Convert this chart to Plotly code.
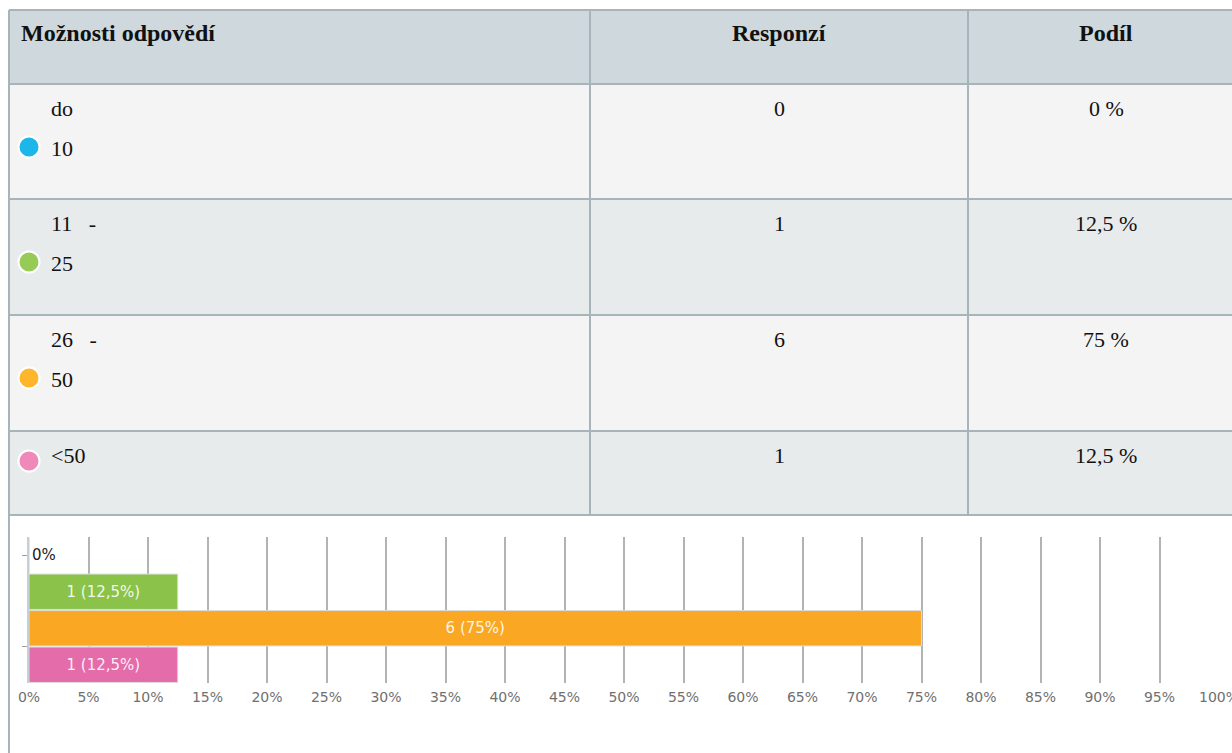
import plotly.graph_objects as go

# ---------------- data ----------------
headers = ["Možnosti odpovědí", "Responzí", "Podíl"]
option_lines = [["do", "10"], ["11\u00a0\u00a0\u00a0-", "25"], ["26\u00a0\u00a0\u00a0-", "50"], ["&lt;50"]]
categories = ["do 10", "11 - 25", "26 - 50", "<50"]
responses = [0, 1, 6, 1]
share_labels = ["0 %", "12,5 %", "75 %", "12,5 %"]
share_pct = [0, 12.5, 75, 12.5]
bar_labels = ["0%", "1 (12,5%)", "6 (75%)", "1 (12,5%)"]
marker_colors = ["#1DB6E9", "#97CB58", "#FFB62B", "#EE89B9"]
bar_colors = ["#1DB6E9", "#8BC34A", "#FAA823", "#E56CAA"]
x_ticks = list(range(0, 101, 5))
x_tick_labels = [f"{v}%" for v in x_ticks]

# ---------------- geometry (pixels) ----------------
W, H = 1232, 753
row_edges = [10, 84, 199, 315, 431, 515]
col_edges = [9, 590, 968, 1245]
row_bg = ["#CFD8DC", "#F4F4F4", "#E8EBEC", "#F4F4F4", "#E8EBEC"]
border = "#A7B4BA"
serif = "Liberation Serif, Times New Roman, serif"
sans = "DejaVu Sans, sans-serif"

plot_top, plot_bot = 537, 683
x0_px, x100_px = 29, 1219

fig = go.Figure()

text_pos = ["outside" if v == 0 else "inside" for v in share_pct]
fig.add_trace(go.Bar(
    x=share_pct, y=categories, orientation="h",
    marker=dict(color=bar_colors, line=dict(color="#DCDCDC", width=1)),
    text=bar_labels, textposition=text_pos, insidetextanchor="middle",
    insidetextfont=dict(family=sans, size=15, color="rgba(255,255,255,0.9)"),
    outsidetextfont=dict(family=sans, size=15, color="#222222"),
    constraintext="none", cliponaxis=False, hoverinfo="skip",
    xaxis="x", yaxis="y", showlegend=False,
))

shapes = []
for i in range(5):
    shapes.append(dict(type="rect", xref="x2", yref="y2", x0=col_edges[0], x1=col_edges[-1],
                       y0=row_edges[i], y1=row_edges[i + 1], fillcolor=row_bg[i],
                       line=dict(width=0), layer="below"))
for y in row_edges:
    shapes.append(dict(type="line", xref="x2", yref="y2", x0=col_edges[0], x1=col_edges[-1],
                       y0=y, y1=y, line=dict(color=border, width=2)))
shapes.append(dict(type="line", xref="x2", yref="y2", x0=col_edges[0], x1=col_edges[0],
                   y0=row_edges[0], y1=H, line=dict(color=border, width=2)))
for x in col_edges[1:3]:
    shapes.append(dict(type="line", xref="x2", yref="y2", x0=x, x1=x,
                       y0=row_edges[0], y1=row_edges[-1], line=dict(color=border, width=2)))

annotations = []
hdr_y = (row_edges[0] + 23)
annotations.append(dict(xref="x2", yref="y2", x=19, y=hdr_y, text=f"<b>{headers[0]}</b>",
                        showarrow=False, xanchor="left", yanchor="middle",
                        font=dict(family=serif, size=24, color="#111")))
col2c = (col_edges[1] + col_edges[2]) / 2
col3c = 1106
for cx, t in [(col2c, headers[1]), (col3c, headers[2])]:
    annotations.append(dict(xref="x2", yref="y2", x=cx, y=hdr_y, text=f"<b>{t}</b>",
                            showarrow=False, xanchor="center", yanchor="middle",
                            font=dict(family=serif, size=24, color="#111")))

dot_x, dot_y = [], []
for i, lines in enumerate(option_lines):
    top = row_edges[i + 1]
    for j, ln in enumerate(lines):
        annotations.append(dict(xref="x2", yref="y2", x=49, y=top + 24 + 40 * j, text=ln,
                                showarrow=False, xanchor="left", yanchor="middle",
                                font=dict(family=serif, size=22, color="#111")))
    dot_x.append(29)
    dot_y.append(top + (63 if len(lines) > 1 else 30))
    annotations.append(dict(xref="x2", yref="y2", x=col2c, y=top + 24, text=str(responses[i]),
                            showarrow=False, xanchor="center", yanchor="middle",
                            font=dict(family=serif, size=22, color="#111")))
    annotations.append(dict(xref="x2", yref="y2", x=col3c, y=top + 24, text=share_labels[i],
                            showarrow=False, xanchor="center", yanchor="middle",
                            font=dict(family=serif, size=22, color="#111")))

fig.add_trace(go.Scatter(
    x=dot_x, y=dot_y, mode="markers", xaxis="x2", yaxis="y2",
    marker=dict(size=21, color=marker_colors, line=dict(color="white", width=2)),
    hoverinfo="skip", showlegend=False,
))

fig.update_layout(
    width=W, height=H, margin=dict(l=0, r=0, t=0, b=0, autoexpand=False),
    paper_bgcolor="white", plot_bgcolor="rgba(0,0,0,0)",
    bargap=0.03, showlegend=False,
    shapes=shapes, annotations=annotations,
    xaxis=dict(domain=[x0_px / W, x100_px / W], range=[0, 100], tickvals=x_ticks,
               ticktext=x_tick_labels, showgrid=True, gridcolor="#B3B3B3", gridwidth=2,
               zeroline=False, showline=False, ticks="", automargin=False,
               ticklabeloverflow="allow",
               tickfont=dict(family=sans, size=14, color="#707070"),
               ticklabelstandoff=4, fixedrange=True, anchor="y"),
    yaxis=dict(domain=[1 - plot_bot / H, 1 - plot_top / H], type="category",
               categoryorder="array", categoryarray=categories, autorange="reversed",
               showgrid=False, zeroline=False, showline=True, linecolor="#C5D0D6", linewidth=2,
               ticks="outside", tickvals=[0, 2.5], ticklen=5, tickcolor="#A0A0A0",
               showticklabels=False, fixedrange=True, anchor="x", automargin=False),
    xaxis2=dict(domain=[0, 1], range=[0, W], visible=False, fixedrange=True, anchor="y2",
                automargin=False),
    yaxis2=dict(domain=[0, 1], range=[H, 0], visible=False, fixedrange=True, anchor="x2",
                automargin=False),
)

fig.write_html("out.html",
               post_script="document.body.style.margin='0';document.body.style.overflow='hidden';",
               config={"displayModeBar": False})
